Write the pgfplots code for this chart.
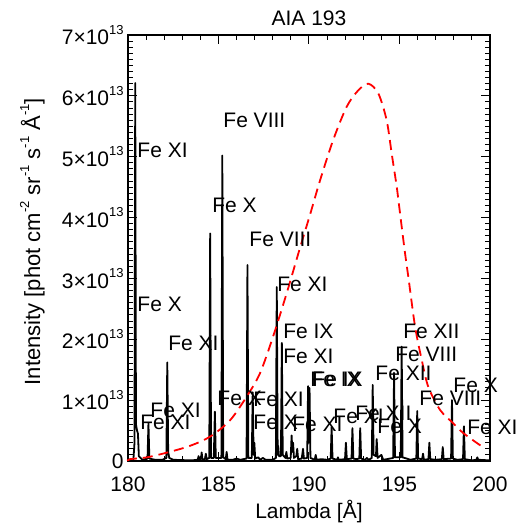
\documentclass[border=0pt]{standalone}
\usepackage{fontspec}
\setmainfont{Liberation Sans}
\usepackage{pgfplots}
\pgfplotsset{compat=1.18}
\newcommand{\sx}[1]{\raisebox{0.5em}{\fontsize{6.5}{7}\selectfont #1}}
\newcommand{\tl}[1]{#1×10\sx{13}}
\begin{document}
\fontsize{10.5}{12}\selectfont
\begin{tikzpicture}
\path[use as bounding box] (-64pt,-33pt) rectangle (196pt,230.5pt);
\begin{axis}[
  scale only axis, width=181pt, height=213pt,
  xmin=180, xmax=200, ymin=0, ymax=7,
  clip=false,
  axis line style={line width=0.9pt},
  xtick={180,185,190,195,200}, xticklabels={180,185,190,195,200},
  minor x tick num=4,
  ytick={0,1,2,3,4,5,6,7},
  yticklabels={0,\tl{1},\tl{2},\tl{3},\tl{4},\tl{5},\tl{6},\tl{7}},
  minor y tick num=9,
  major tick length=4.5pt, minor tick length=2.5pt,
  every tick/.style={black, line width=0.5pt},
  tick label style={font=\fontsize{10.5}{12}\selectfont},
  yticklabel style={inner xsep=2pt},
  xticklabel style={yshift=-4pt},
  title={AIA 193},
  title style={at={(axis description cs:0.5,1)}, anchor=base, yshift=-1pt, font=\fontsize{10.5}{12}\selectfont},
  xlabel={Lambda [Å]},
  xlabel style={at={(axis description cs:0.5,0)}, anchor=base, yshift=-28.5pt, font=\fontsize{10.5}{12}\selectfont},
  ylabel={Intensity [phot cm\sx{-2} sr\sx{-1} s\sx{-1} Å\sx{-1}]},
  ylabel style={at={(axis description cs:-0.243,0.515)}, anchor=base, font=\fontsize{11}{12}\selectfont},
]
% spectrum (intensity in units of 10^13)
\addplot[black, line width=0.9pt, line join=round] coordinates {
(180.00,0.02) (180.30,0.03) (180.36,0.3) (180.40,6.21) (180.44,0.6) (180.50,0.5) (180.55,0.45) (180.60,0.08) (180.80,0.02)
(181.08,0.04) (181.13,0.62) (181.18,0.04) (181.5,0.02) (181.9,0.02) (182.12,0.05) (182.17,1.62) (182.22,0.15) (182.28,0.05)
(182.5,0.02) (183.5,0.01) (183.85,0.02) (183.9,0.08) (183.95,0.02) (184.03,0.03) (184.07,0.14) (184.11,0.03) (184.25,0.03)
(184.30,0.12) (184.35,0.03) (184.49,0.05) (184.54,3.74) (184.59,0.05) (184.74,0.05) (184.80,0.81) (184.85,0.05) (185.16,0.05)
(185.21,5.02) (185.26,0.06) (185.4,0.03) (185.45,0.15) (185.5,0.02) (185.8,0.02) (186.0,0.04) (186.2,0.02) (186.55,0.04)
(186.60,3.22) (186.65,0.05) (186.84,0.05) (186.89,1.13) (186.94,0.1) (186.98,0.3) (187.03,0.04) (187.2,0.06) (187.3,0.02)
(187.45,0.05) (187.6,0.02) (188.0,0.02) (188.17,0.05) (188.22,2.86) (188.27,0.1) (188.3,0.25) (188.34,0.08) (188.45,0.08)
(188.50,1.94) (188.55,0.1) (188.7,0.05) (188.75,0.15) (188.8,0.04) (188.99,0.05) (189.04,0.42) (189.08,0.15) (189.12,0.3)
(189.17,0.05) (189.3,0.08) (189.35,0.2) (189.4,0.03) (189.6,0.04) (189.67,0.2) (189.72,0.04) (189.9,0.05) (189.95,1.23)
(189.99,0.3) (190.03,1.2) (190.08,0.05) (190.32,0.02) (190.37,0.1) (190.42,0.02) (190.7,0.03) (191.0,0.02) (191.2,0.04)
(191.25,0.56) (191.3,0.04) (191.55,0.02) (191.6,0.06) (191.65,0.02) (191.99,0.03) (192.04,0.3) (192.09,0.03) (192.35,0.04)
(192.40,0.54) (192.45,0.04) (192.6,0.03) (192.78,0.04) (192.83,0.54) (192.88,0.04) (193.1,0.02) (193.2,0.05) (193.3,0.02)
(193.47,0.05) (193.52,1.25) (193.57,0.1) (193.70,0.08) (193.74,0.36) (193.79,0.05) (194.0,0.1) (194.1,0.02) (194.3,0.03)
(194.65,0.05) (194.70,1.45) (194.75,0.06) (195.07,0.06) (195.12,1.88) (195.17,0.06) (195.4,0.04) (195.6,0.02) (195.93,0.04)
(195.98,0.82) (196.03,0.04) (196.25,0.03) (196.3,0.12) (196.35,0.02) (196.6,0.03) (196.65,0.30) (196.7,0.03) (197.0,0.02)
(197.34,0.03) (197.39,0.23) (197.44,0.03) (197.85,0.04) (197.90,1.0) (197.95,0.04) (198.2,0.02) (198.51,0.03) (198.56,0.57)
(198.61,0.03) (199.0,0.01) (199.25,0.02) (199.3,0.06) (199.35,0.02) (200.0,0.01)
};
% AIA 193 response (scaled)
\addplot[red, line width=0.9pt, smooth, dash pattern=on 5pt off 3pt] coordinates {
(180.0,0.0) (180.11,0.03) (181.22,0.07) (183.24,0.23) (184.53,0.40) (185.64,0.67) (186.56,1.06) (187.29,1.44)
(188.01,2.04) (188.77,2.76) (189.50,3.50) (190.06,4.05) (190.61,4.61) (191.33,5.27) (192.08,5.82) (192.72,6.09)
(193.28,6.20) (193.83,6.04) (194.29,5.60) (194.57,5.05) (194.85,4.50) (195.03,4.07) (195.30,3.43) (195.5,3.0)
(195.86,2.21) (196.23,1.66) (196.59,1.22) (197.24,0.84) (197.97,0.62) (198.52,0.46) (199.45,0.26) (199.6,0.24)
};
% line identifications
\begin{scope}[every node/.style={anchor=base west, inner sep=0pt, font=\fontsize{10.5}{12}\selectfont}]
\node at (axis cs:185.25,5.48) {Fe VIII};
\node at (axis cs:180.50,4.98) {Fe XI};
\node at (axis cs:184.64,4.09) {Fe X};
\node at (axis cs:186.69,3.53) {Fe VIII};
\node at (axis cs:188.23,2.79) {Fe XI};
\node at (axis cs:180.50,2.45) {Fe X};
\node at (axis cs:188.56,2.02) {Fe IX};
\node at (axis cs:188.56,1.61) {Fe XI};
\node at (axis cs:182.21,1.82) {Fe XI};
\node at (axis cs:195.19,2.02) {Fe XII};
\node at (axis cs:194.75,1.63) {Fe VIII};
\node at (axis cs:190.06,1.22) {Fe IX};
\node at (axis cs:190.17,1.23) {Fe IX};
\node at (axis cs:193.65,1.33) {Fe XII};
\node at (axis cs:197.96,1.13) {Fe X};
\node at (axis cs:196.08,0.92) {Fe VIII};
\node at (axis cs:198.73,0.43) {Fe XI};
\node at (axis cs:184.92,0.92) {Fe X};
\node at (axis cs:186.91,0.89) {Fe XI};
\node at (axis cs:181.22,0.71) {Fe XI};
\node at (axis cs:180.66,0.51) {Fe XI};
\node at (axis cs:186.91,0.51) {Fe X};
\node at (axis cs:189.06,0.48) {Fe XI};
\node at (axis cs:191.33,0.62) {Fe XI};
\node at (axis cs:192.54,0.67) {Fe XII};
\node at (axis cs:193.76,0.46) {Fe X};
\end{scope}
\end{axis}
\end{tikzpicture}
\end{document}
